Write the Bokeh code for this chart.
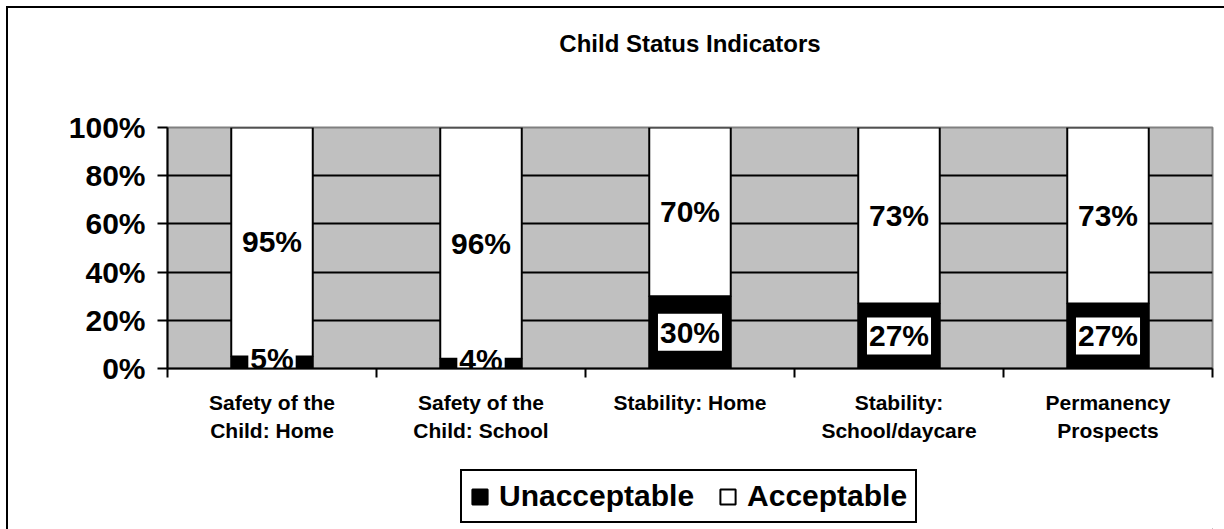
from bokeh.plotting import figure
from bokeh.layouts import column
from bokeh.models import (FixedTicker, Legend, LegendItem, Title, ColumnDataSource, Range1d)
from bokeh.core.properties import value
from bokeh.embed import file_html
from bokeh.resources import INLINE

# ---- data ----
categories = ["Safety of the\nChild: Home", "Safety of the\nChild: School", "Stability: Home",
              "Stability:\nSchool/daycare", "Permanency\nProspects"]
unacceptable = [5, 4, 30, 27, 27]
acceptable = [95, 96, 70, 73, 73]
y_ticks = [0, 20, 40, 60, 80, 100]
y_tick_labels = ["0%", "20%", "40%", "60%", "80%", "100%"]
series = ["Unacceptable", "Acceptable"]
series_colors = ["black", "white"]

FONT = "Liberation Sans"

xs = [i + 0.5 for i in range(len(categories))]
src = ColumnDataSource(dict(x=xs, Unacceptable=unacceptable, Acceptable=acceptable))

p = figure(width=1216, height=452, output_backend="svg", toolbar_location=None,
           x_range=Range1d(0, len(categories)), y_range=Range1d(0, 100),
           min_border_left=159, min_border_right=12, min_border_top=119, min_border_bottom=92)
p.background_fill_color = "#C0C0C0"
p.border_fill_color = "white"
p.outline_line_color = "#808080"
p.outline_line_width = 2

# spacer between the frame and the title, then the title itself
spacer = Title(text=" ", text_font_size="1px", standoff=46)
p.add_layout(spacer, "above")
title = Title(text="Child Status Indicators", align="center", vertical_align="top", text_font=FONT,
              text_font_size="24px", text_font_style="bold", text_color="black", standoff=40)
p.add_layout(title, "above")

renderers = p.vbar_stack(series, x="x", width=0.39, source=src,
                         fill_color=series_colors, line_color="black", line_width=2)

# grid
p.xgrid.visible = False
p.ygrid.ticker = FixedTicker(ticks=y_ticks[1:-1])
p.ygrid.grid_line_color = "black"
p.ygrid.grid_line_width = 2

# y axis
p.yaxis.ticker = FixedTicker(ticks=y_ticks)
p.yaxis.major_label_overrides = {t: l for t, l in zip(y_ticks, y_tick_labels)}
p.yaxis.major_label_text_font = FONT
p.yaxis.major_label_text_font_size = "30px"
p.yaxis.major_label_text_font_style = "bold"
p.yaxis.major_label_text_color = "black"
p.yaxis.axis_line_color = "black"
p.yaxis.axis_line_width = 2
p.yaxis.major_tick_line_color = "black"
p.yaxis.major_tick_line_width = 2
p.yaxis.major_tick_out = 10
p.yaxis.major_tick_in = 0
p.yaxis.minor_tick_line_color = None
p.yaxis.major_label_standoff = 12

# x axis
p.xaxis.ticker = FixedTicker(ticks=xs, minor_ticks=list(range(len(categories) + 1)))
p.xaxis.major_label_overrides = {x: c for x, c in zip(xs, categories)}
p.xaxis.major_label_text_font = FONT
p.xaxis.major_label_text_font_size = "21px"
p.xaxis.major_label_text_font_style = "bold"
p.xaxis.major_label_text_color = "black"
p.xaxis.major_label_text_line_height = 1.25
p.xaxis.axis_line_color = "black"
p.xaxis.axis_line_width = 2
p.xaxis.major_tick_line_color = None
p.xaxis.major_tick_out = 0
p.xaxis.major_tick_in = 0
p.xaxis.minor_tick_line_color = "black"
p.xaxis.minor_tick_line_width = 2
p.xaxis.minor_tick_out = 9
p.xaxis.minor_tick_in = 0
p.xaxis.major_label_standoff = 13

# value labels
small = [u < 10 for u in unacceptable]
low_src = ColumnDataSource(dict(
    x=[x for x, s in zip(xs, small) if s],
    y=[u / 2 for u, s in zip(unacceptable, small) if s],
    t=[f"{u}%" for u, s in zip(unacceptable, small) if s]))
mid_src = ColumnDataSource(dict(
    x=[x for x, s in zip(xs, small) if not s],
    y=[u / 2 for u, s in zip(unacceptable, small) if not s],
    t=[f"{u}%" for u, s in zip(unacceptable, small) if not s]))
top_src = ColumnDataSource(dict(
    x=xs,
    y=[u + a / 2 for u, a in zip(unacceptable, acceptable)],
    t=[f"{a}%" for a in acceptable]))
common = dict(text_font=value(FONT), text_font_size="30px", text_font_style="bold",
              text_color="black", text_align="center", text_baseline="middle",
              background_fill_color="white", padding=2)
p.text(x="x", y="y", text="t", source=low_src, y_offset=-4, **common)
p.text(x="x", y="y", text="t", source=mid_src, **common)
p.text(x="x", y="y", text="t", source=top_src, **common)

# legend strip
p2 = figure(width=1216, height=69, output_backend="svg", toolbar_location=None,
            x_axis_type=None, y_axis_type=None, min_border=0,
            x_range=Range1d(0, 1), y_range=Range1d(0, 1))
p2.outline_line_color = None
p2.background_fill_color = "white"
p2.border_fill_color = "white"
p2.grid.visible = False
proxies = [p2.vbar(x=[5], top=[0], width=0.39, fill_color=c, line_color="black", line_width=2)
           for c in series_colors]
legend = Legend(items=[LegendItem(label=s, renderers=[r]) for s, r in zip(series, proxies)],
                orientation="horizontal", location=(293, 6),
                label_text_font=FONT, label_text_font_size="30px", label_text_font_style="bold",
                label_text_color="black", glyph_width=19, glyph_height=19,
                label_standoff=10, spacing=24, padding=8, margin=0,
                border_line_color="black", border_line_width=2, border_line_alpha=1,
                background_fill_color="white", background_fill_alpha=1)
p2.add_layout(legend, "center")

root = column(p, p2, spacing=0)
root.styles = {"border-left": "2px solid black", "border-top": "2px solid black",
               "margin-left": "6px", "margin-top": "6px"}

open("out.html", "w").write(file_html(root, INLINE))
